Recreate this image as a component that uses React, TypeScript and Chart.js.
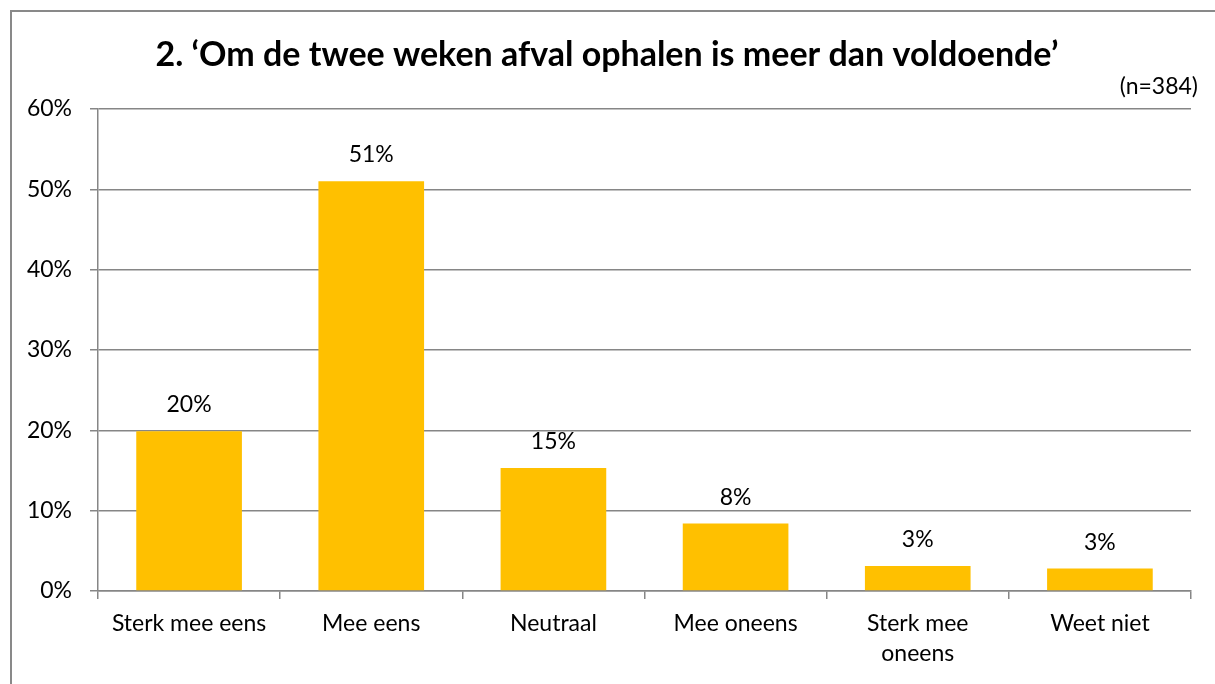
import React, { useEffect, useRef } from "react";
import { Chart, registerables } from "chart.js";

Chart.register(...registerables);

const categories: (string | string[])[] = [
  "Sterk mee eens",
  "Mee eens",
  "Neutraal",
  "Mee oneens",
  ["Sterk mee", "oneens"],
  "Weet niet",
];
const values: number[] = [19.9, 51.0, 15.3, 8.4, 3.1, 2.8];
const valueLabels: string[] = ["20%", "51%", "15%", "8%", "3%", "3%"];
const titleText = "2. \u2018Om de twee weken afval ophalen is meer dan voldoende\u2019";
const noteText = "(n=384)";

const FONT = "Lato, 'Noto Sans', sans-serif";
const GRID = "#868686";
const FS = 23;

export default function App() {
  const ref = useRef<HTMLCanvasElement | null>(null);
  useEffect(() => {
    if (!ref.current) return;
    const deco = {
      id: "deco",
      beforeDraw(chart: any) {
        const ctx = chart.ctx;
        ctx.save();
        ctx.fillStyle = "#fff";
        ctx.fillRect(0, 0, chart.width, chart.height);
        ctx.strokeStyle = "#898989";
        ctx.lineWidth = 2;
        ctx.strokeRect(11, 11, 1400, 1000);
        ctx.restore();
      },
      afterDatasetsDraw(chart: any) {
        const ctx = chart.ctx;
        ctx.save();
        ctx.fillStyle = "#000";
        ctx.font = `${FS}px ${FONT}`;
        ctx.textAlign = "center";
        ctx.textBaseline = "alphabetic";
        const meta = chart.getDatasetMeta(0);
        meta.data.forEach((bar: any, i: number) => {
          ctx.fillText(valueLabels[i], bar.x, bar.y - 19);
        });
        ctx.font = `bold 34px ${FONT}`;
        ctx.fillText(titleText, 607, 66);
        ctx.font = `${FS}px ${FONT}`;
        ctx.textAlign = "right";
        ctx.fillText(noteText, 1198, 94);
        ctx.restore();
      },
    };
    const chart = new Chart(ref.current, {
      type: "bar",
      data: {
        labels: categories,
        datasets: [
          {
            data: values,
            backgroundColor: "#FFC000",
            barPercentage: 0.58,
            categoryPercentage: 1,
          },
        ],
      },
      options: {
        animation: false,
        responsive: true,
        maintainAspectRatio: false,
        layout: { padding: { top: 109, right: 24, left: 0, bottom: 0 } },
        plugins: {
          legend: { display: false },
          tooltip: { enabled: false },
          title: { display: false },
        },
        scales: {
          x: {
            offset: true,
            grid: {
              display: true,
              drawOnChartArea: false,
              offset: true,
              color: GRID,
              lineWidth: 1.5,
              tickLength: 8,
            },
            border: { color: GRID, width: 1.5 },
            ticks: {
              color: "#000",
              font: { family: FONT, size: FS, lineHeight: 1.3 },
              padding: 10,
              maxRotation: 0,
              autoSkip: false,
            },
            afterFit(scale: any) {
              scale.height = 93;
            },
          },
          y: {
            min: 0,
            max: 60,
            grid: { color: GRID, lineWidth: 1.5, tickLength: 8 },
            border: { color: GRID, width: 1.5 },
            ticks: {
              stepSize: 10,
              color: "#000",
              font: { family: FONT, size: FS },
              padding: 18,
              callback: (v: any) => `${v}%`,
            },
            afterFit(scale: any) {
              scale.width = 98;
            },
          },
        },
      },
      plugins: [deco],
    });
    return () => chart.destroy();
  }, []);
  return (
    <div style={{ position: "absolute", left: 0, top: 0, width: 1215, height: 684, overflow: "hidden", background: "#fff" }}>
      <canvas ref={ref} />
    </div>
  );
}
